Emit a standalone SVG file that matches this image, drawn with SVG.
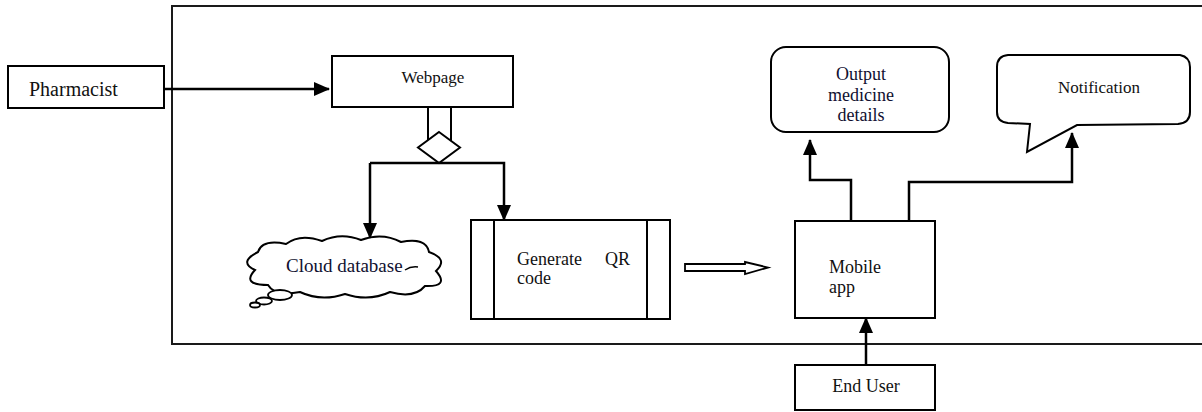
<svg xmlns="http://www.w3.org/2000/svg" width="1202" height="412" viewBox="0 0 1202 412">
<style>
  .box{fill:#fff;stroke:#000;stroke-width:2}
  .frame{fill:none;stroke:#1a1a1a;stroke-width:2}
  text{font-family:"Liberation Serif","Times New Roman","DejaVu Serif",Times,serif;fill:#111}
  .dk{fill:#101030}
  .con{fill:none;stroke:#000;stroke-width:2.5}
</style>
<defs>
  <marker id="ah" viewBox="0 0 16 14" refX="15" refY="7" markerWidth="16" markerHeight="14" markerUnits="userSpaceOnUse" orient="auto">
    <path d="M0,0 L16,7 L0,14 Z" fill="#000"/>
  </marker>
</defs>
<rect width="1202" height="412" fill="#fff"/>
<path class="frame" d="M1203,6 L172,6 L172,344 L1203,344"/>

<g id="pharmacist">
  <rect class="box" x="8" y="66" width="156" height="42"/>
  <text x="29" y="96" font-size="20" font-family="Liberation Serif, serif">Pharmacist</text>
</g>
<g id="webpage">
  <rect class="box" x="332" y="56" width="181" height="51"/>
  <text x="433" y="83" font-size="17" text-anchor="middle" font-family="Liberation Serif, serif">Webpage</text>
</g>
<g id="decision">
  <path d="M428,107 L428,140 M451,107 L451,141" stroke="#000" stroke-width="2" fill="none"/>
  <path d="M439,132 L460,147.5 L439,163 L418,147.5 Z" fill="#fff" stroke="#000" stroke-width="2"/>
</g>
<g id="cloud">
  <path d="M255,270 Q238,262 258,252 Q262,239 286,244 Q300,233 322,241 Q341,232 361,240 Q382,232 401,242 Q426,237 429,252 Q449,259 436,271 Q450,287 425,286 Q414,299 390,292 Q369,302 345,294 Q321,302 300,292 Q275,297 268,285 Q241,285 255,270 Z" fill="#fff" stroke="#000" stroke-width="2"/>
  <path d="M405,270 Q411,266 418,267" fill="none" stroke="#000" stroke-width="1.5"/>
  <ellipse cx="280" cy="295" rx="12" ry="5" fill="#fff" stroke="#000" stroke-width="1.8"/>
  <ellipse cx="264" cy="301" rx="8" ry="3.5" fill="#fff" stroke="#000" stroke-width="1.8"/>
  <ellipse cx="255" cy="305" rx="5" ry="2.5" fill="#fff" stroke="#000" stroke-width="1.8"/>
  <text class="dk" x="286" y="272" font-size="19" font-family="Liberation Serif, serif">Cloud database</text>
</g>
<g id="generate-qr">
  <rect class="box" x="471" y="220" width="199" height="99"/>
  <path d="M494,220 L494,319 M647,220 L647,319" stroke="#000" stroke-width="2"/>
  <text x="517" y="265" font-size="18" font-family="Liberation Serif, serif">Generate</text>
  <text x="605" y="265" font-size="18" font-family="Liberation Serif, serif">QR</text>
  <text x="517" y="284" font-size="18" font-family="Liberation Serif, serif">code</text>
</g>
<g id="mobile-app">
  <rect class="box" x="795" y="221" width="140" height="97"/>
  <text x="829" y="273" font-size="18" font-family="Liberation Serif, serif">Mobile</text>
  <text x="829" y="293" font-size="18" font-family="Liberation Serif, serif">app</text>
</g>
<g id="end-user">
  <rect class="box" x="795" y="365" width="140" height="45"/>
  <text x="866" y="392" font-size="18" text-anchor="middle" font-family="Liberation Serif, serif">End User</text>
</g>
<g id="output">
  <rect class="box" x="771" y="47" width="178" height="85" rx="15" ry="15"/>
  <text class="dk" x="861" y="80" font-size="18" text-anchor="middle" font-family="Liberation Serif, serif">Output</text>
  <text class="dk" x="861" y="101" font-size="18" text-anchor="middle" font-family="Liberation Serif, serif">medicine</text>
  <text class="dk" x="861" y="121" font-size="18" text-anchor="middle" font-family="Liberation Serif, serif">details</text>
</g>
<g id="notification">
  <path d="M1008,55 L1180,55 Q1190,57 1190,67 L1190,112 Q1190,123 1178,124 L1077,125 L1027,152 L1030,124 L1008,123 Q997,122 997,112 L997,67 Q997,56 1008,55 Z" fill="#fff" stroke="#000" stroke-width="2"/>
  <text x="1099" y="93" font-size="17" text-anchor="middle" font-family="Liberation Serif, serif">Notification</text>
</g>

<g id="connectors">
  <line class="con" x1="164" y1="89" x2="329" y2="89" stroke-width="2" marker-end="url(#ah)"/>
  <path class="con" d="M370,163 L504,163 L504,220" marker-end="url(#ah)"/>
  <path class="con" d="M370,163 L370,238" marker-end="url(#ah)"/>
  <path class="con" d="M851,221 L851,180 L810,180 L810,140" marker-end="url(#ah)"/>
  <path class="con" d="M909,221 L909,182 L1072,182 L1072,133" marker-end="url(#ah)"/>
  <path class="con" d="M866,365 L866,318" marker-end="url(#ah)"/>
  <path d="M685,264 L745,264 L745,262 L768,267.5 L745,274 L745,271 L685,271 Z" fill="#fff" stroke="#000" stroke-width="1.8"/>
</g>
</svg>
